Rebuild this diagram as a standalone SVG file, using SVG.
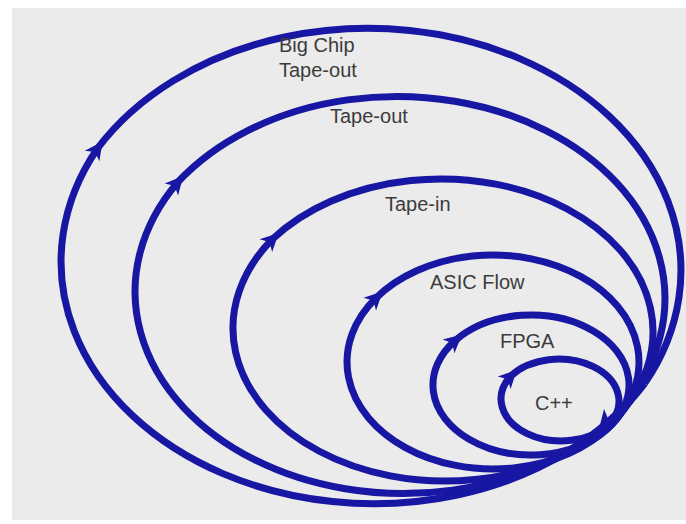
<svg xmlns="http://www.w3.org/2000/svg" width="686" height="524" viewBox="0 0 686 524">
  <style>
    .loop { fill: none; stroke: #1717a3; stroke-width: 7; marker-mid: url(#barb); }
    .label { font-family: "Liberation Sans", Arial, sans-serif; font-size: 20px; fill: #3c3c3c; }
  </style>
  <defs>
    <!-- barbed arrowhead placed on each loop's vertex, oriented along the stroke -->
    <marker id="barb" markerUnits="userSpaceOnUse" markerWidth="40" markerHeight="40"
            viewBox="-20 -20 40 40" refX="0" refY="0" orient="auto" overflow="visible">
      <path d="M9 0 L-9 -9 L-4 0 L-9 9 Z" fill="#1717a3"/>
    </marker>
  </defs>

  <rect width="686" height="524" fill="#ffffff"/>
  <rect x="12" y="8" width="674" height="512" fill="#ebebeb"/>

  <!-- each loop: half-arc to the arrow point, then half-arc back (clockwise) -->
  <g id="connectors">
    <path id="loop-bigchip" class="loop" d="M644.7 383.3 A313 242 0 0 1 97.3 148.7 A313 242 0 0 1 644.7 383.3"/>
    <path id="loop-tapeout" class="loop" d="M622.7 407.3 A268 202 0 0 1 177.3 182.7 A268 202 0 0 1 622.7 407.3"/>
    <path id="loop-tapein" class="loop" d="M613.7 420.7 A212 153 0 0 1 272.3 239.3 A212 153 0 0 1 613.7 420.7"/>
    <path id="loop-asic" class="loop" d="M609.8 426.2 A146 107 0 0 1 376.2 297.8 A146 107 0 0 1 609.8 426.2"/>
    <path id="loop-fpga" class="loop" d="M606.7 429.5 A98 70 0 0 1 455.3 340.5 A98 70 0 0 1 606.7 429.5"/>
    <path id="loop-cpp" class="loop" d="M609.5 423.7 A60 42 0 0 1 510.5 376.3 A60 42 0 0 1 609.5 423.7"/>
    <!-- small spike on the inner side of the innermost loop -->
    <path d="M600 425 L604 409 L609 421 Z" fill="#1717a3"/>
  </g>

  <g id="node-bigchip">
    <text class="label" x="279" y="52">Big Chip</text>
    <text class="label" x="279" y="77">Tape-out</text>
  </g>
  <g id="node-tapeout">
    <text class="label" x="330" y="123">Tape-out</text>
  </g>
  <g id="node-tapein">
    <text class="label" x="385" y="211">Tape-in</text>
  </g>
  <g id="node-asic">
    <text class="label" x="430" y="289">ASIC Flow</text>
  </g>
  <g id="node-fpga">
    <text class="label" x="500" y="348">FPGA</text>
  </g>
  <g id="node-cpp">
    <text class="label" x="535" y="410">C++</text>
  </g>
</svg>
